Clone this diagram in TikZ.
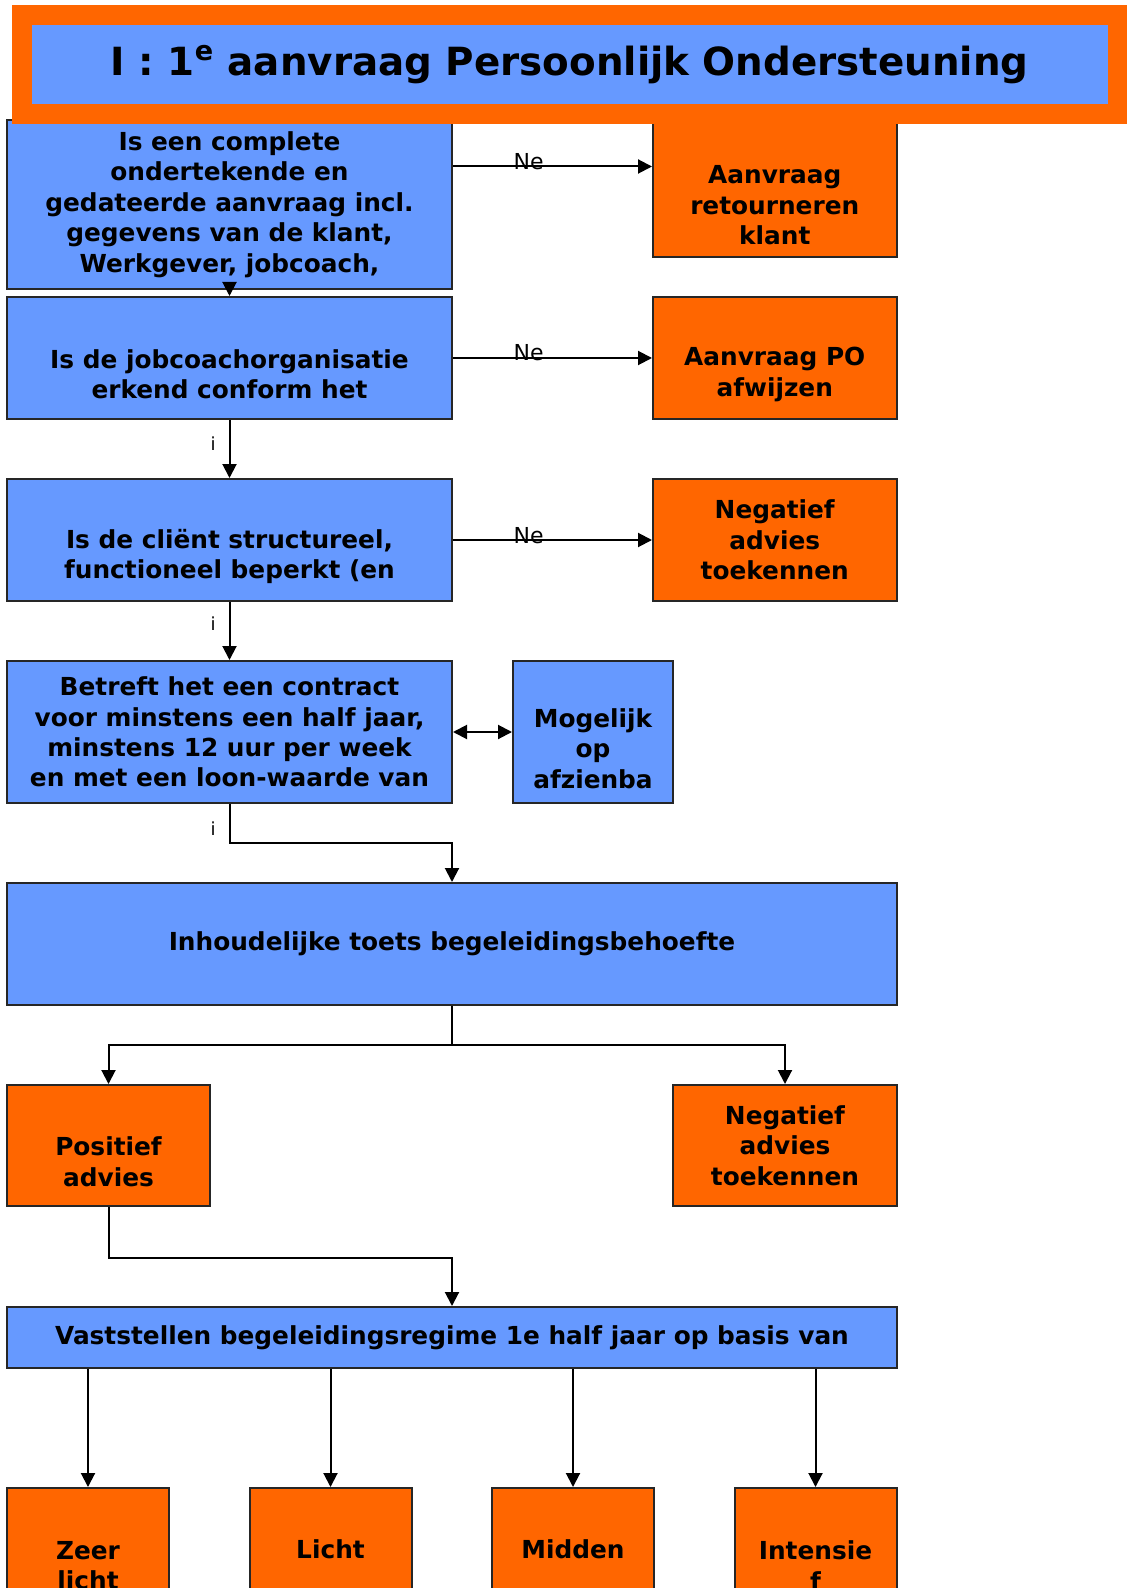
\documentclass[tikz,border=0pt]{standalone}
\usepackage{fontspec}
\setmainfont{DejaVu Sans}
\usepackage{tikz}
\usetikzlibrary{arrows.meta,calc,positioning}
\definecolor{blue1}{HTML}{6699FF}
\definecolor{orange1}{HTML}{FF6600}
\def\boxsep{99.5pt}

\begin{document}
\begin{tikzpicture}[x=0.5pt,y=-0.5pt,line width=1pt,draw=black,>={Triangle[length=7pt,width=7pt]}]
\tikzstyle{box}=[rectangle,draw=black!85,line width=1pt,align=center,inner sep=0pt,font=\bfseries\fontsize{12.4}{15.2}\selectfont]
\tikzstyle{question box}=[box,fill=blue1,minimum width=222.5pt]
\tikzstyle{result box}=[box,fill=orange1]
\tikzstyle{annot}=[inner sep=0pt,anchor=base,font=\fontsize{11}{13}\selectfont]
\tikzstyle{yes}=[inner sep=0pt,font=\fontsize{9}{11}\selectfont]

\path[use as bounding box,clip] (0,0) rectangle (1127,1588);

% Draw the question boxes
\node[question box,minimum height=84.5pt] (Q-1) at (229.5,204.5) {Is een complete\\ondertekende en\\gedateerde aanvraag incl.\\gegevens van de klant,\\Werkgever, jobcoach,};
\node[question box,minimum height=61pt] (Q-2) at (229.5,358) {\strut\\Is de jobcoachorganisatie\\erkend conform het};
\node[question box,minimum height=61pt] (Q-3) at (229.5,540) {\strut\\Is de cliënt structureel,\\functioneel beperkt (en};
\node[question box,minimum height=71pt] (Q-4) at (229.5,732) {Betreft het een contract\\voor minstens een half jaar,\\minstens 12 uur per week\\en met een loon-waarde van};

% Draw the outcome boxes on the right
\node[result box,minimum width=121.75pt,minimum height=68.5pt] (A-1) at (774.75,188.5) {\strut\\Aanvraag\\retourneren\\klant};
\node[result box,minimum width=121.75pt,minimum height=61pt,right=\boxsep of Q-2] (A-2) {\strut\\Aanvraag PO\\afwijzen};
\node[result box,minimum width=121.75pt,minimum height=61pt,right=\boxsep of Q-3] (A-3) {Negatief\\advies\\toekennen};
\node[question box,minimum width=80pt,minimum height=71pt,right=29.5pt of Q-4] (M) {\strut\\Mogelijk\\op\\afzienba};

% Toets and advies
\node[question box,minimum width=445pt,minimum height=61pt] (T) at (452,944) {Inhoudelijke toets begeleidingsbehoefte};
\node[result box,minimum width=101.5pt,minimum height=60.5pt] (P) at (108.5,1145.5) {\strut\\Positief\\advies};
\node[result box,minimum width=112pt,minimum height=60.5pt] (N) at (785,1145.5) {Negatief\\advies\\toekennen};
\node[question box,minimum width=445pt,minimum height=30.5pt] (R) at (452,1337.5) {Vaststellen begeleidingsregime 1e half jaar op basis van};

% Draw the regime boxes
\foreach \name/\txt [count=\i from 0] in {zeer/{\strut\\Zeer\\licht},licht/Licht,midden/Midden,intensief/{\strut\\Intensie\\f}}
\node[result box,minimum width=81pt,minimum height=61pt] (B-\name) at ({88+\i*242.5},1549) {\txt};

% Connect the questions with the outcomes
\draw[->] ([yshift=19pt]Q-1.east) coordinate (n1) -- (n1 -| A-1.west) node[annot,pos=0.38,yshift=-1.5pt] {Ne};
\draw[->] (Q-2) -- (A-2) node[annot,pos=0.38,yshift=-1.5pt] {Ne};
\draw[->] (Q-3) -- (A-3) node[annot,pos=0.38,yshift=-1.5pt] {Ne};
\draw[<->] (Q-4) -- (M);

% Connect the questions top to bottom
\draw[->] (Q-1) -- (Q-2);
\draw[->] (Q-2) -- (Q-3) node[yes,pos=0.4,left=6.5pt] {i};
\draw[->] (Q-3) -- (Q-4) node[yes,pos=0.38,left=6.5pt] {i};
\draw[->] (Q-4.south) -- ++(0,39) node[yes,pos=0.64,left=6.5pt] {i} -| (T);
\draw[->] (T.south) -- ++(0,39) -| (P);
\draw[->] (T.south) -- ++(0,39) -| (N);
\draw[->] (P.south) -- ++(0,51) -| (R);
\foreach \name in {zeer,licht,midden,intensief}
\draw[->] (R.south -| B-\name) -- (B-\name);

% Title band on top
\node[fill=blue1,draw=orange1,line width=10pt,minimum width=548.25pt,minimum height=49.75pt,font=\bfseries\fontsize{19.4}{23}\selectfont] (title) at (569.75,64.75) {I : 1\textsuperscript{e} aanvraag Persoonlijk Ondersteuning};
\end{tikzpicture}
\end{document}
